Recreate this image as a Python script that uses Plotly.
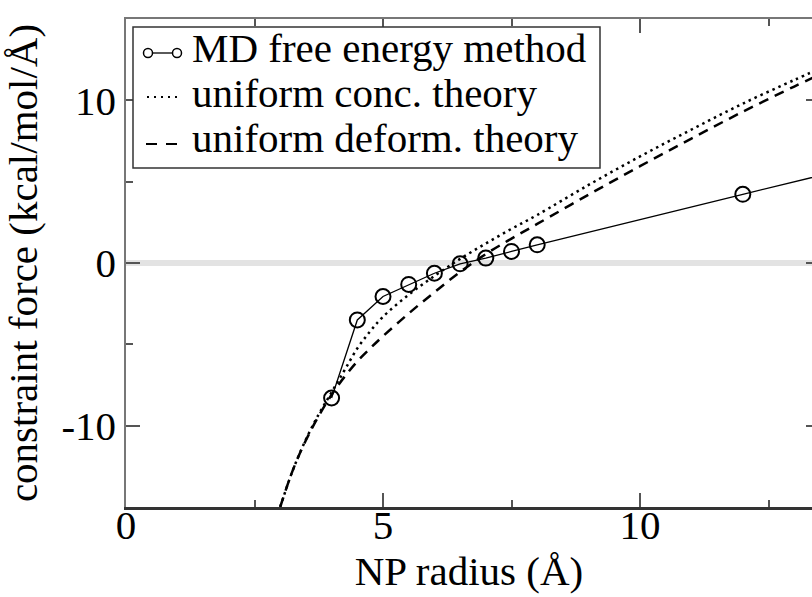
import plotly.graph_objects as go

# ---- data ----
md_x = [4, 4.5, 5, 5.5, 6, 6.5, 7, 7.5, 8, 12, 16]
md_y = [-8.3, -3.5, -2.06, -1.32, -0.63, -0.05, 0.3, 0.71, 1.12, 4.22, 7.3]

conc_x = [3.0, 3.25, 3.5, 3.75, 4.0, 4.25, 4.5, 4.75, 5.0, 5.5, 6.0, 6.5, 7.0, 7.5, 8.0, 9.0, 10.0, 11.0, 12.0, 13.0, 13.5]
conc_y = [-15.0, -12.7, -10.85, -9.3, -7.95, -6.6, -5.25, -4.2, -3.3, -1.95, -0.8, 0.25, 1.2, 2.1, 2.95, 4.8, 6.55, 8.2, 9.8, 11.25, 11.95]

deform_x = [3.0, 3.25, 3.5, 3.75, 4.0, 4.25, 4.5, 4.75, 5.0, 5.5, 6.0, 6.5, 7.0, 7.5, 8.0, 9.0, 10.0, 11.0, 12.0, 13.0, 13.5]
deform_y = [-15.0, -12.7, -10.9, -9.4, -8.1, -7.0, -6.05, -5.25, -4.5, -3.1, -1.8, -0.55, 0.55, 1.5, 2.4, 4.2, 5.95, 7.65, 9.3, 10.85, 11.6]

x_major = [0, 5, 10]
x_minor = [2.5, 7.5, 12.5]
y_major = [-10, 0, 10]
y_major_text = ["-10", "0", "10"]
y_minor = [-5, 5]

names = ["MD free energy method", "uniform conc. theory", "uniform deform. theory"]

X_RANGE = [0, 13.346]
Y_RANGE = [-15, 15]
FONT = "Liberation Serif, Times New Roman, DejaVu Serif, serif"
FS = 41

fig = go.Figure()
fig.add_trace(go.Scatter(
    x=md_x, y=md_y, name=names[0], mode="lines+markers", showlegend=False,
    line=dict(color="black", width=1.3),
    marker=dict(symbol="circle-open", size=15, color="black", line=dict(width=2)),
))
fig.add_trace(go.Scatter(
    x=conc_x, y=conc_y, name=names[1], mode="lines", showlegend=False,
    line=dict(color="black", width=2.5, dash="2.5px,4px", shape="spline", smoothing=1),
))
fig.add_trace(go.Scatter(
    x=deform_x, y=deform_y, name=names[2], mode="lines", showlegend=False,
    line=dict(color="black", width=2.5, dash="10px,7px", shape="spline", smoothing=1),
))
# helper traces so the top and right tick axes are drawn
fig.add_trace(go.Scatter(x=[None], y=[None], xaxis="x2", yaxis="y", showlegend=False, hoverinfo="skip"))
fig.add_trace(go.Scatter(x=[None], y=[None], xaxis="x", yaxis="y2", showlegend=False, hoverinfo="skip"))

# ---- legend box (drawn in plot-area paper coordinates) ----
L, T, W, H = 126.0, 19.0, 686.0, 488.0
def px(x):
    return (x - L) / W
def py(y):
    return (T + H - y) / H

shapes = [
    dict(type="rect", xref="paper", yref="paper", x0=px(133), x1=px(600), y0=py(168), y1=py(27),
         line=dict(color="#333333", width=1.5), fillcolor="white", layer="above"),
    dict(type="line", xref="paper", yref="paper", x0=px(152.5), x1=px(172.5), y0=py(53), y1=py(53),
         line=dict(color="black", width=1.3), layer="above"),
    dict(type="circle", xref="paper", yref="paper", x0=px(143.5), x1=px(152.5), y0=py(57.5), y1=py(48.5),
         line=dict(color="black", width=1.5), layer="above"),
    dict(type="circle", xref="paper", yref="paper", x0=px(172.5), x1=px(181.5), y0=py(57.5), y1=py(48.5),
         line=dict(color="black", width=1.5), layer="above"),
    dict(type="line", xref="paper", yref="paper", x0=px(147), x1=px(177), y0=py(97), y1=py(97),
         line=dict(color="black", width=2, dash="2px,5px"), layer="above"),
    dict(type="line", xref="paper", yref="paper", x0=px(146), x1=px(177), y0=py(144), y1=py(144),
         line=dict(color="black", width=2, dash="11px,9px"), layer="above"),
]
annotations = []
for name, yc in zip(names, [48.2, 93.2, 138.2]):
    annotations.append(dict(
        text=name, xref="paper", yref="paper", x=px(190), y=py(yc),
        xanchor="left", yanchor="middle", showarrow=False,
        font=dict(family=FONT, size=FS, color="black"),
    ))

tickc = "#555555"
fig.update_layout(
    width=812, height=597,
    margin=dict(l=126, r=0, t=19, b=90, autoexpand=False),
    plot_bgcolor="white", paper_bgcolor="white",
    font=dict(family=FONT, size=FS, color="black"),
    showlegend=False,
    shapes=shapes,
    annotations=annotations,
    xaxis=dict(
        range=X_RANGE, tickvals=x_major, ticks="inside", ticklen=14, tickwidth=1.5, tickcolor=tickc,
        showline=True, linecolor="#333333", linewidth=3, showgrid=False, zeroline=False,
        minor=dict(tickvals=x_minor, ticks="inside", ticklen=7, tickwidth=1.5, tickcolor=tickc, showgrid=False),
        title=dict(text="NP radius (Å)", font=dict(family=FONT, size=FS), standoff=0),
        tickfont=dict(family=FONT, size=FS), automargin=False, ticklabelstandoff=-20,
    ),
    xaxis2=dict(
        overlaying="x", side="top", anchor="y", range=X_RANGE,
        tickvals=x_major, ticks="inside", ticklen=14, tickwidth=1.5, tickcolor=tickc,
        showticklabels=False, showline=True, linecolor="#777777", linewidth=1.5,
        showgrid=False, zeroline=False, automargin=False,
        minor=dict(tickvals=x_minor, ticks="inside", ticklen=7, tickwidth=1.5, tickcolor=tickc, showgrid=False),
    ),
    yaxis=dict(
        range=Y_RANGE, tickvals=y_major, ticktext=y_major_text, ticks="inside", ticklen=14, tickwidth=1.5,
        tickcolor=tickc, showline=True, linecolor="#777777", linewidth=1.5, showgrid=False,
        zeroline=True, zerolinecolor="#e3e3e3", zerolinewidth=6,
        minor=dict(tickvals=y_minor, ticks="inside", ticklen=7, tickwidth=1.5, tickcolor=tickc, showgrid=False),
        title=dict(text="constraint force (kcal/mol/Å)", font=dict(family=FONT, size=FS)),
        tickfont=dict(family=FONT, size=FS), automargin=False,
    ),
    yaxis2=dict(
        overlaying="y", side="right", anchor="x", range=Y_RANGE,
        tickvals=y_major, ticks="inside", ticklen=6, tickwidth=1.5, tickcolor=tickc,
        showticklabels=False, showline=False, showgrid=False, zeroline=False, automargin=False,
    ),
)

fig.write_html("out.html")
